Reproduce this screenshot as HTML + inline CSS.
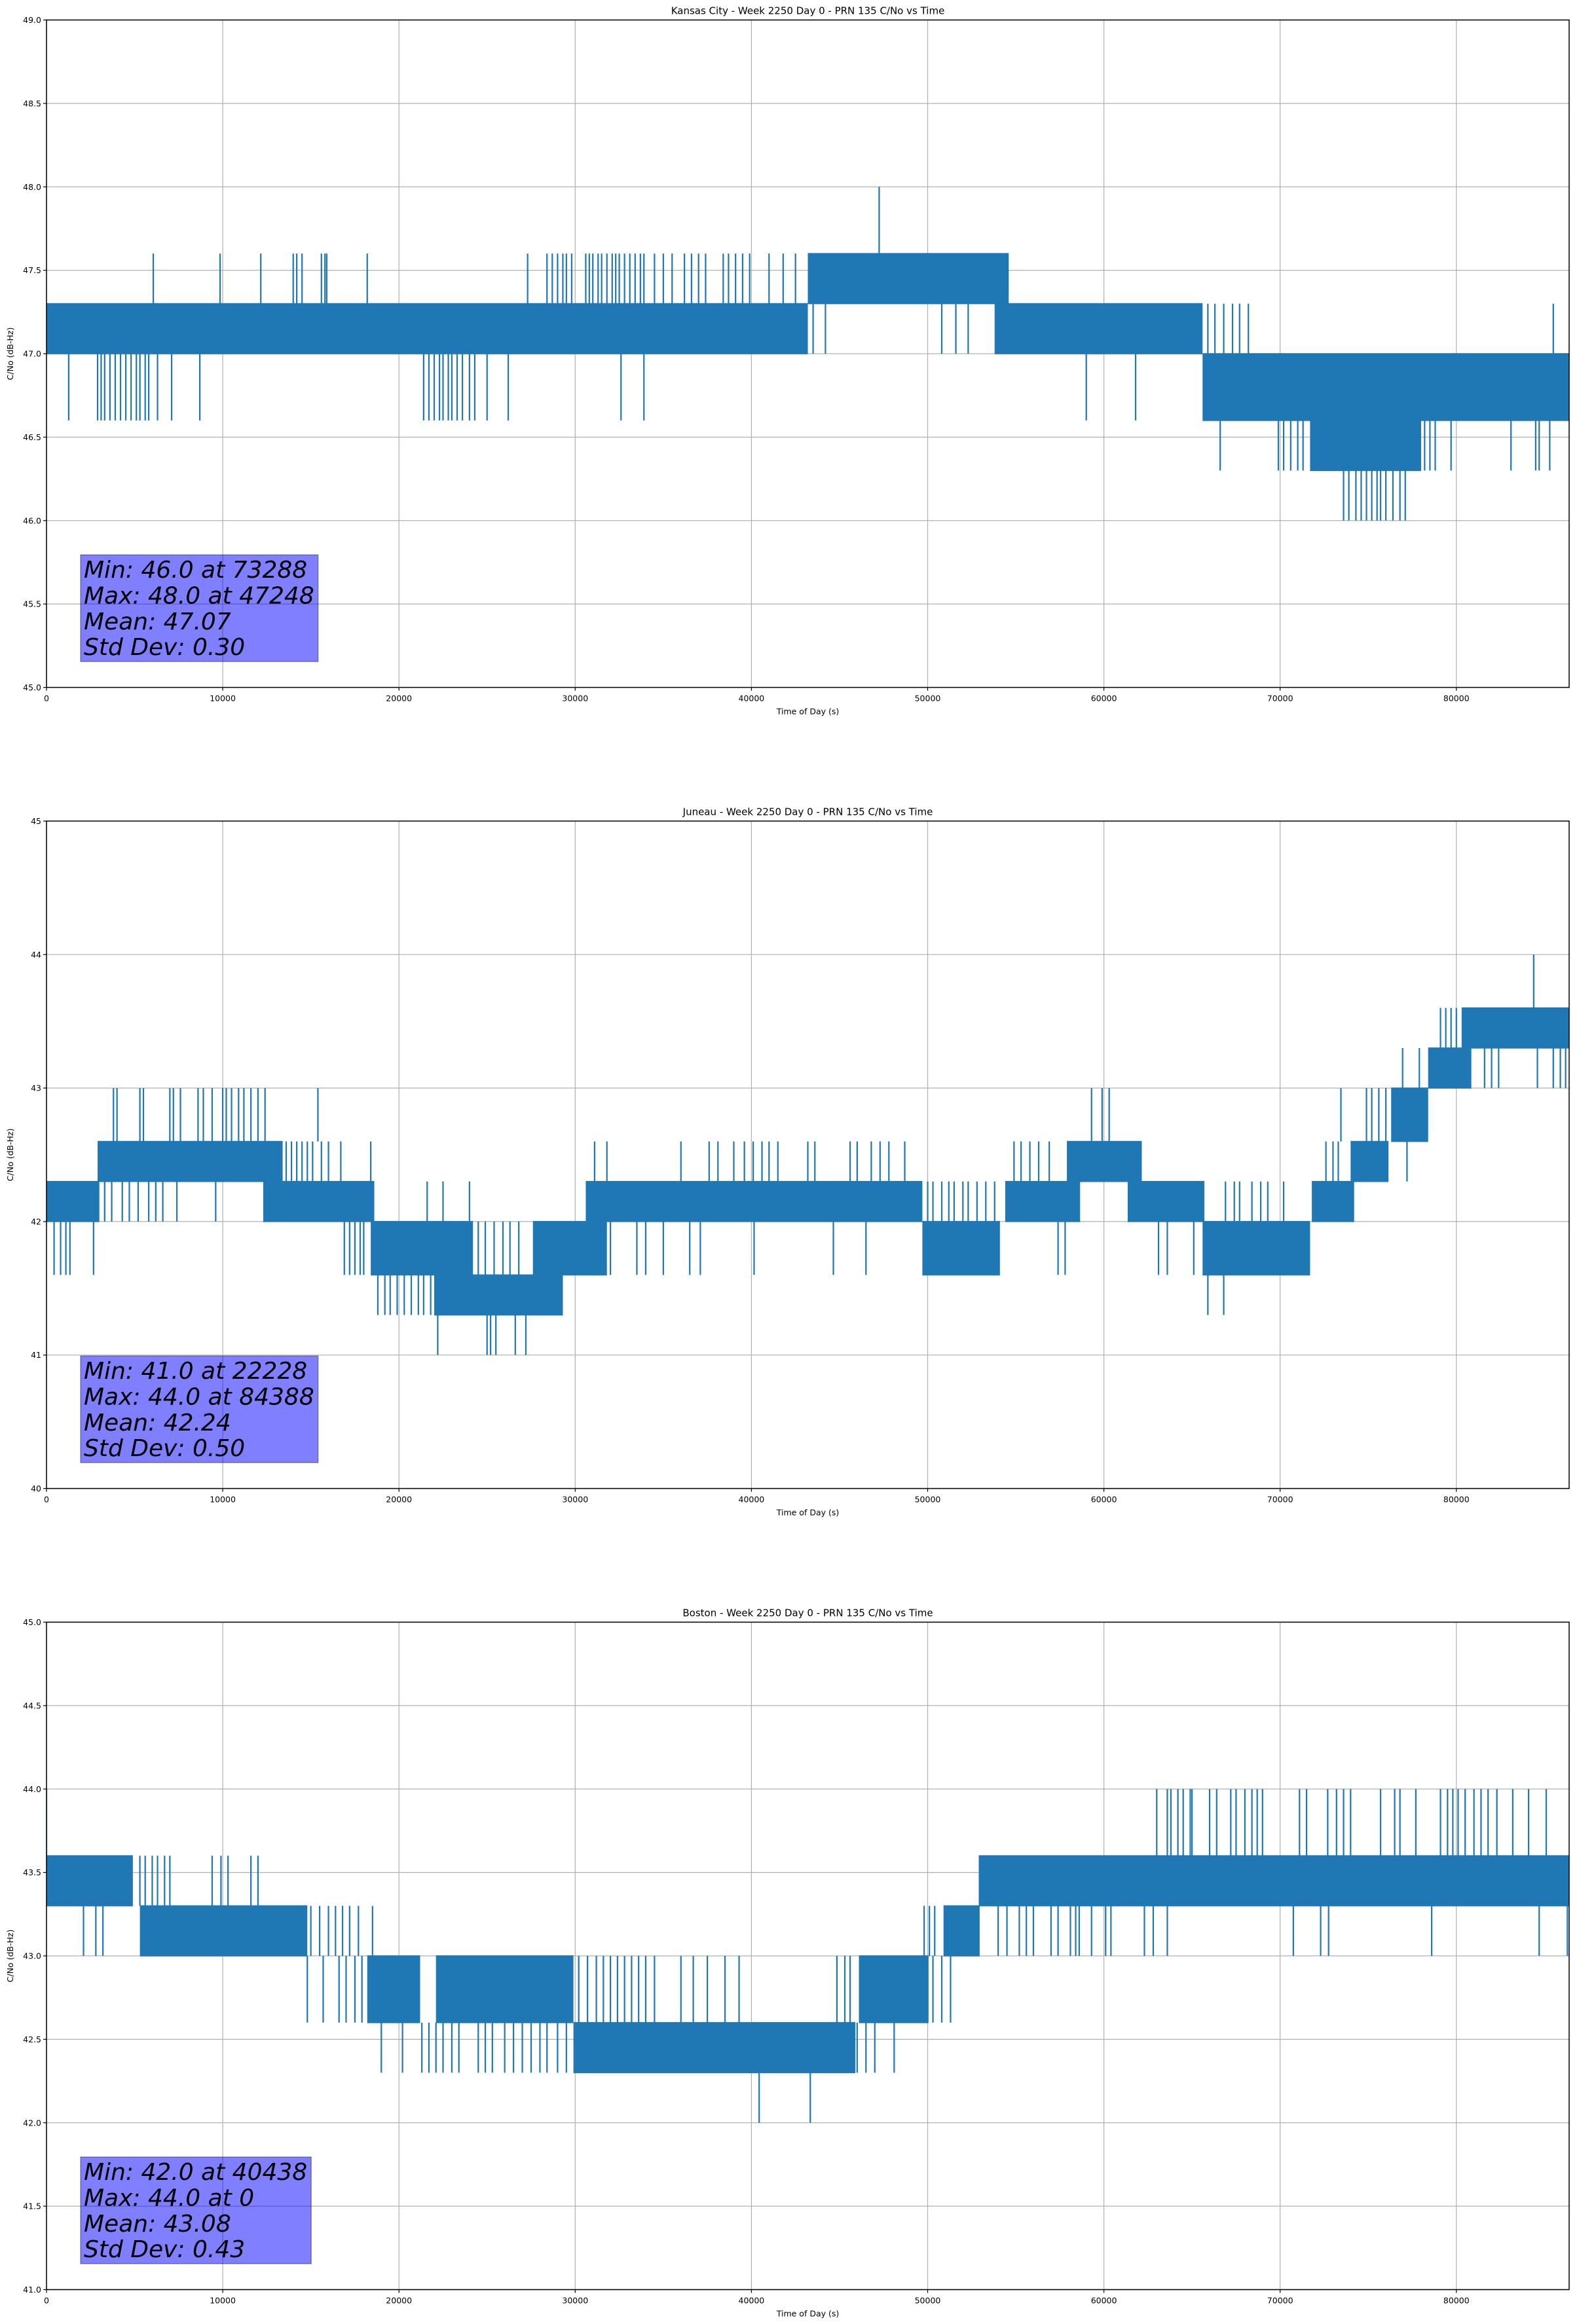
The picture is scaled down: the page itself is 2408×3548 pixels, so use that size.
<!DOCTYPE html>
<html><head><meta charset="utf-8">
<style>
html,body{margin:0;padding:0;background:#fff;}
svg{display:block;font-family:"DejaVu Sans","Liberation Sans",sans-serif;}
.stat{font-style:italic;}
</style></head>
<body>
<svg id="fig" width="2408" height="3548" viewBox="0 0 2408 3548" xmlns="http://www.w3.org/2000/svg"></svg>
<script>
// ---------- DATA: Kansas City ----------
const kcBandStart=[0,43200,53800,65600,71700];
const kcBandEnd=[43200,54600,65600,86400,78000];
const kcBandLow=[47.0,47.3,47.0,46.6,46.3];
const kcBandHigh=[47.3,47.6,47.3,47.0,46.6];
const kcSpikeGroups=[
 [6060,9850,12160,14000,14200,14500,15600,15800,15900,18200,27300,28400,28700,29000,29300,29500,29800,30600,30800,31000,31300,31500,31800,32100,32300,32500,32800,33100,33400,33700,33900,34500,35000,35500,36200,36600,37000,37400,38400,38700,39100,39500,39900,41000,41800,42500],
 [1260,2900,3100,3300,3600,3900,4200,4500,4800,5100,5300,5600,5800,6300,7100,8700,21400,21700,22000,22300,22500,22800,23000,23300,23600,24000,24300,25000,26200,32600,33900,59000,61800],
 [47248],
 [43500,44200,50800,51600,52300],
 [64200,64600,65000,65900,66300,66800,67300,67700,68200,85500],
 [66600,69900,70200,70600,71000,71300,78200,78500,78800,79700,83100,84500,84700,85300],
 [73600,73900,74300,74600,74900,75200,75500,75700,76000,76400,76800,77100]];
const kcSpikeFrom=[47.3,47.0,47.6,47.3,47.0,46.6,46.3];
const kcSpikeTo=[47.6,46.6,48.0,47.0,47.3,46.3,46.0];

// ---------- DATA: Juneau ----------
const juBandStart=[0,2900,12300,18400,22000,27600,30600,49700,54400,57900,61350,65600,71800,74000,76300,78400,80300];
const juBandEnd=[3000,13400,18600,24200,29300,31800,49700,54100,58650,62150,65700,71700,74200,76150,78400,80850,86400];
const juBandLow=[42.0,42.3,42.0,41.6,41.3,41.6,42.0,41.6,42.0,42.3,42.0,41.6,42.0,42.3,42.6,43.0,43.3];
const juBandHigh=[42.3,42.6,42.3,42.0,41.6,42.0,42.3,42.0,42.3,42.6,42.3,42.0,42.3,42.6,43.0,43.3,43.6];
const juSpikeGroups=[
 [430,800,1100,1330,2670,16900,17200,17500,17800,18000,30600,31000,32000,33500,34000,35000,36500,37100,40150,44650,46500,57400,57800,63100,63600,65100],
 [3800,4000,5300,5500,7000,7200,7600,8600,8900,9400,10000,10200,10500,10900,11200,11600,12000,12400,15400],
 [3300,3700,4300,4700,5200,5800,6200,6600,7400,9600],
 [13600,13900,14200,14500,14800,15100,15600,16000,16700,18400],
 [18800,19200,19500,19900,20300,20700,21100,21400,21800],
 [22200,25000,25200,25500,26600,27200],
 [21600,22500,24000],
 [24500,24900,25400,25900,26300,26800],
 [31100,31800,36000,37600,38100,39000,39600,40100,40600,41000,41500,43200,43600,45600,46000,46800,47300,47800,48700,54900,55300,55800,56300,56900],
 [50000,50300,50800,51200,51500,52000,52300,52800,53300,53800],
 [59300,59900,60300],
 [65900,66800],
 [66900,67400,67700,68400,68900,69300,70200],
 [72600,73000,73300],
 [73450,74900,75200,75600,76000],
 [76950,77900],
 [77200],
 [79100,79400,79700,80000],
 [81600,82000,82400,84600,85500,85900,86200],
 [84388]];
const juSpikeFrom=[42.0,42.6,42.3,42.3,41.6,41.3,42.0,41.6,42.3,42.0,42.6,41.6,42.0,42.3,42.6,43.0,42.6,43.3,43.3,43.6];
const juSpikeTo=[41.6,43.0,42.0,42.6,41.3,41.0,42.3,42.0,42.6,42.3,43.0,41.3,42.3,42.6,43.0,43.3,42.3,43.6,43.0,44.0];

// ---------- DATA: Boston ----------
const boBandStart=[0,5300,18200,22100,29900,46100,50900,52900];
const boBandEnd=[4900,14800,21200,29900,45900,50050,52950,86400];
const boBandLow=[43.3,43.0,42.6,42.6,42.3,42.6,43.0,43.3];
const boBandHigh=[43.6,43.3,43.0,43.0,42.6,43.0,43.3,43.6];
const boSpikeGroups=[
 [0],
 [2100,2800,3200],
 [5300,5600,6000,6300,6700,7000,9400,9900,10300,11600,12000],
 [14800,15700,16600,17000,17500,17900],
 [15000,15500,16000,16400,16800,17200,17700,18500],
 [19000,20200,21300,21700,22100,22500,23000,23400,24500,24900,25300,26000,26500,27000,27500,28000,28400,29000,29500],
 [30200,30700,31200,31600,32000,32400,32800,33200,33600,34000,34500,36000,36700,37500,38500,39300],
 [40438,43340],
 [46000,46500,47000,48100],
 [44850,45300,45600],
 [50300,50800,51300],
 [49800,50100,50400],
 [54000,54500,55200,55600,56000,57000,57400,58100,58400,58600,59300,60100,60400,62300,62800,63600],
 [63000,63600,63800,64200,64500,64900,65000,66000,66400,67200,67500,68000,68400,68700,69000,71100,71500,72700,73200,73600,74000,75700,76500,76800,77700,79100,79500,79800,80100,80500,81000,81400,81800,82300,83200,84100,85100],
 [70750,72300,72750,78600,84700,86300]];
const boSpikeFrom=[43.6,43.3,43.3,43.0,43.0,42.6,42.6,42.3,42.6,42.6,43.0,43.0,43.3,43.6,43.3];
const boSpikeTo=[44.0,43.0,43.6,42.6,43.3,42.3,43.0,42.0,42.3,43.0,42.6,43.3,43.0,44.0,43.0];

const xTicks=[0,10000,20000,30000,40000,50000,60000,70000,80000];
const kcYTicks=[45.0,45.5,46.0,46.5,47.0,47.5,48.0,48.5,49.0];
const juYTicks=[40,41,42,43,44,45];
const boYTicks=[41.0,41.5,42.0,42.5,43.0,43.5,44.0,44.5,45.0];
const kcStats=["Min: 46.0 at 73288","Max: 48.0 at 47248","Mean: 47.07","Std Dev: 0.30"];
const juStats=["Min: 41.0 at 22228","Max: 44.0 at 84388","Mean: 42.24","Std Dev: 0.50"];
const boStats=["Min: 42.0 at 40438","Max: 44.0 at 0","Mean: 43.08","Std Dev: 0.43"];

// ---------- RENDER ----------
const NS="http://www.w3.org/2000/svg";
const svg=document.getElementById('fig');
function mk(tag,attrs,parent){const e=document.createElementNS(NS,tag);for(const k in attrs)e.setAttribute(k,attrs[k]);(parent||svg).appendChild(e);return e;}
const BLUE="#1f77b4";
const L=71,R=2396,XMAX=86400;
const defs=mk('defs',{});

function drawPanel(top,title,yMin,yMax,yTicks,yDec,bs,be,bl,bh,groups,gFrom,gTo,stats,name){
  const bot=top+1019;
  const g=mk('g',{});
  
  
  const cp=mk('clipPath',{id:'clip-'+name},defs);
  mk('rect',{x:L,y:top,width:R-L,height:bot-top},cp);
  const xs=t=>L+(t/XMAX)*(R-L);
  const ys=v=>bot-(v-yMin)/(yMax-yMin)*(bot-top);
  const grid=mk('g',{stroke:'#b0b0b0','stroke-width':1.2},g);
  
  
  xTicks.forEach(t=>{const x=xs(t);mk('line',{x1:x,x2:x,y1:top,y2:bot},grid);});
  yTicks.forEach(v=>{const y=ys(v);mk('line',{x1:L,x2:R,y1:y,y2:y},grid);});
  const data=mk('g',{'clip-path':'url(#clip-'+name+')'},g);
  
  
  for(let i=0;i<bs.length;i++){
    const r=mk('rect',{x:xs(bs[i]),y:ys(bh[i])-0.8,width:xs(be[i])-xs(bs[i]),height:ys(bl[i])-ys(bh[i])+1.6,fill:BLUE},data);
    
    
  }
  for(let k=0;k<groups.length;k++){
    groups[k].forEach(t=>{
      const x=xs(t);
      const l=mk('line',{x1:x,x2:x,y1:ys(gFrom[k]),y2:ys(gTo[k]),stroke:BLUE,'stroke-width':2.2},data);
      
      
    });
  }
  const fr=mk('rect',{x:L,y:top,width:R-L,height:bot-top,fill:'none',stroke:'#000','stroke-width':1.5},g);
  
  
  xTicks.forEach(t=>{const x=xs(t);mk('line',{x1:x,x2:x,y1:bot,y2:bot+5,stroke:'#000','stroke-width':1.2},g);
    const tx=mk('text',{x:x,y:bot+21,'font-size':12.5,'text-anchor':'middle',fill:'#000'},g);tx.textContent=String(t);
    
    });
  yTicks.forEach(v=>{const y=ys(v);mk('line',{x1:L-5,x2:L,y1:y,y2:y,stroke:'#000','stroke-width':1.2},g);
    const tx=mk('text',{x:L-8,y:y+4.5,'font-size':12.5,'text-anchor':'end',fill:'#000'},g);tx.textContent=v.toFixed(yDec);
    
    });
  const tt=mk('text',{x:(L+R)/2,y:top-9,'font-size':15,'text-anchor':'middle',fill:'#000'},g);tt.textContent=title;
  
  
  const xl=mk('text',{x:(L+R)/2,y:bot+41,'font-size':12.5,'text-anchor':'middle',fill:'#000'},g);xl.textContent='Time of Day (s)';
  
  
  const cy=(top+bot)/2;
  const yl=mk('text',{x:20,y:cy,'font-size':12.5,'text-anchor':'middle',fill:'#000',transform:`rotate(-90 20 ${cy})`},g);yl.textContent='C/No (dB-Hz)';
  
  
  const bx=123,bb=bot-39.5,lh=39.4,bhgt=163;
  const box=mk('rect',{x:bx,y:bb-bhgt,width:0,height:bhgt,fill:'rgba(0,0,255,0.5)',stroke:'rgba(0,0,0,0.35)','stroke-width':1.5},g);
  
  
  let maxW=0;
  stats.forEach((s,i)=>{const t=mk('text',{x:bx+5,y:bb-bhgt+35+i*lh,'font-size':36,'font-style':'italic',fill:'#000',class:'stat'},g);t.textContent=s;
    
    
    maxW=Math.max(maxW,t.getComputedTextLength());});
  box.setAttribute('width',maxW+11);
}
drawPanel(30.5,'Kansas City - Week 2250 Day 0 - PRN 135 C/No vs Time',45,49,kcYTicks,1,
  kcBandStart,kcBandEnd,kcBandLow,kcBandHigh,kcSpikeGroups,kcSpikeFrom,kcSpikeTo,kcStats,'kansas-city');
drawPanel(1253.5,'Juneau - Week 2250 Day 0 - PRN 135 C/No vs Time',40,45,juYTicks,0,
  juBandStart,juBandEnd,juBandLow,juBandHigh,juSpikeGroups,juSpikeFrom,juSpikeTo,juStats,'juneau');
drawPanel(2476.5,'Boston - Week 2250 Day 0 - PRN 135 C/No vs Time',41,45,boYTicks,1,
  boBandStart,boBandEnd,boBandLow,boBandHigh,boSpikeGroups,boSpikeFrom,boSpikeTo,boStats,'boston');
</script>
</body></html>
